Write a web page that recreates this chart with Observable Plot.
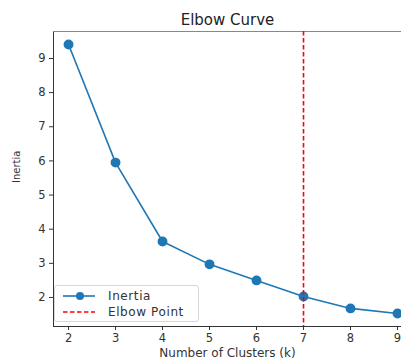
<!DOCTYPE html>
<html>
<head>
<meta charset="utf-8">
<script src="https://cdn.jsdelivr.net/npm/d3@7"></script>
<script src="https://cdn.jsdelivr.net/npm/@observablehq/plot@0.6"></script>
<style>
  html, body { margin: 0; padding: 0; background: #fff; overflow: hidden; }
  #wrap { position: relative; width: 401px; height: 363px; }
  #legend {
    position: absolute; left: 54px; top: 285px; width: 143px; height: 35px;
    border: 1px solid #d8d8d8; border-radius: 3px; background: rgba(255,255,255,0.85);
    font-family: "DejaVu Sans", sans-serif; font-size: 12px; letter-spacing: 0.6px; color: #333;
  }
  .row { position: absolute; left: 8px; height: 14px; display: flex; align-items: center; }
  .row svg { margin-right: 13px; }
</style>
</head>
<body>
<div id="wrap"></div>
<script>
const clusters = [2, 3, 4, 5, 6, 7, 8, 9];
const inertia = [9.41, 5.95, 3.64, 2.97, 2.50, 2.03, 1.68, 1.53];
const elbowK = [7];
const xTicks = [2, 3, 4, 5, 6, 7, 8, 9];
const yTicks = [2, 3, 4, 5, 6, 7, 8, 9];
const titleText = "Elbow Curve";
const xLabel = "Number of Clusters (k)";
const yLabel = "Inertia";
const seriesNames = ["Inertia", "Elbow Point"];

const data = clusters.map((k, i) => ({k, v: inertia[i]}));
const blue = "#1f77b4";

const chart = Plot.plot({
  width: 401,
  height: 363,
  marginLeft: 53,
  marginTop: 31,
  marginBottom: 37,
  marginRight: 0,
  style: {fontFamily: "DejaVu Sans, sans-serif", fontSize: "11px", color: "#333", background: "#fff"},
  x: {domain: [1.68, 9.085], ticks: xTicks, tickFormat: d => d, label: null},
  y: {domain: [1.15, 9.79], ticks: yTicks, tickFormat: d => d, label: null},
  marks: [
    Plot.frame({anchor: "left", stroke: "#333"}),
    Plot.frame({anchor: "bottom", stroke: "#333"}),
    Plot.frame({anchor: "top", stroke: "#888"}),
    Plot.axisX({ticks: xTicks, tickSize: 4, tickPadding: 3, stroke: "#333", fontSize: 11.5, label: null}),
    Plot.axisY({ticks: yTicks, tickSize: 4, tickPadding: 4, stroke: "#333", fontSize: 11.5, label: null}),
    Plot.line(data, {x: "k", y: "v", stroke: blue, strokeWidth: 1.6}),
    Plot.dot(data, {x: "k", y: "v", r: 4.2, fill: blue, stroke: blue}),
    Plot.ruleX(elbowK, {stroke: "red", strokeWidth: 1.6, strokeDasharray: "4.5,2.5"}),
    Plot.text([titleText], {frameAnchor: "top", dy: -17, fontSize: 15, fill: "#222", text: d => d, style: {letterSpacing: "0.6px"}}),
    Plot.text([xLabel], {frameAnchor: "bottom", dy: 30, fontSize: 12, fill: "#333", text: d => d, style: {letterSpacing: "0.9px"}}),
    Plot.text([yLabel], {frameAnchor: "left", dx: -37, dy: 4, rotate: -90, fontSize: 10, fill: "#333", text: d => d})
  ]
});

const wrap = document.getElementById("wrap");
wrap.appendChild(chart);

const legend = document.createElement("div");
legend.id = "legend";
legend.innerHTML = `
  <div class="row" style="top:3px">
    <svg width="32" height="10"><line x1="0" y1="5" x2="32" y2="5" stroke="${blue}" stroke-width="1.6"/><circle cx="17" cy="5" r="4" fill="${blue}"/></svg>
    <span>${seriesNames[0]}</span>
  </div>
  <div class="row" style="top:19px">
    <svg width="32" height="10"><line x1="0" y1="5" x2="32" y2="5" stroke="red" stroke-width="1.6" stroke-dasharray="4.5,2.5"/></svg>
    <span>${seriesNames[1]}</span>
  </div>`;
wrap.appendChild(legend);
</script>
</body>
</html>
